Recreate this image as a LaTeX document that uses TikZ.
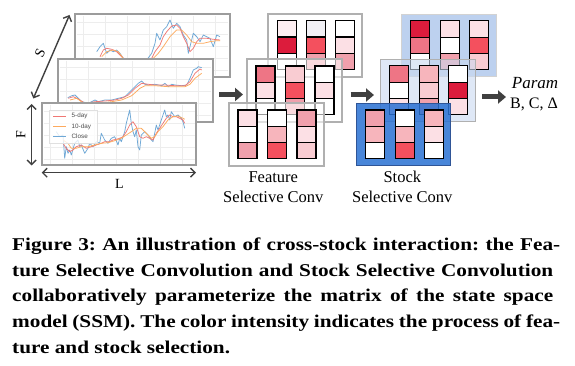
\documentclass[tikz,border=0pt]{standalone}
\usepackage{fontspec}
\setmainfont{Liberation Serif}
\setsansfont{Liberation Sans}
\newfontfamily\capfont[FakeStretch=1.18]{Liberation Serif}
\usetikzlibrary{arrows.meta}
\definecolor{pa}{HTML}{FCE0E5}
\definecolor{pb}{HTML}{F9CCD2}
\definecolor{pc}{HTML}{F7B5BC}
\definecolor{pd}{HTML}{F0A0AC}
\definecolor{pe}{HTML}{EE7585}
\definecolor{pf}{HTML}{F4505E}
\definecolor{pg}{HTML}{DC1C3C}
\definecolor{ph}{HTML}{FDEEF1}
\definecolor{pgr}{HTML}{F1F0F5}
\definecolor{cfive}{HTML}{F07874}
\definecolor{cten}{HTML}{FDAA5E}
\definecolor{cclose}{HTML}{6FA8D6}
\definecolor{darkarrow}{HTML}{404040}
\definecolor{gridc}{HTML}{EDEDED}
\definecolor{panelgray}{HTML}{9C9C9C}
\definecolor{blueback}{HTML}{BDD1EF}
\definecolor{bluemid}{HTML}{CBDAF0}
\definecolor{bluefront}{HTML}{2A71D3}
\definecolor{bluefrontedge}{HTML}{2F5597}
\newcommand\cellstack[5]{%
  \draw[cellbox, fill=#3] ({#1},{#2}) rectangle ++(19,16.3);
  \draw[cellbox, fill=#4] ({#1},{#2+16.3}) rectangle ++(19,16.3);
  \draw[cellbox, fill=#5] ({#1},{#2+32.6}) rectangle ++(19,16.3);}
\newcommand\chartgrid{%
  \foreach \gx in {8,30,...,150} \draw[gridc, line width=0.5pt] (\gx,2) -- (\gx,61);
  \foreach \gy in {8,20,...,60} \draw[gridc, line width=0.5pt] (2,\gy) -- (153,\gy);}
\tikzset{
  cellbox/.style={draw=black, line width=1.1pt},
  featpanel/.style={draw=panelgray!80, fill=white, fill opacity=0.6, line width=1.1pt},
  chartpanel/.style={draw=panelgray, fill=white, line width=1.2pt},
  fiveline/.style={cfive, line width=0.75pt, line join=round},
  tenline/.style={cten, line width=0.75pt, line join=round},
  closeline/.style={cclose, line width=0.75pt, line join=round},
  dimarrow/.style={darkarrow, line width=1.4pt, {Straight Barb[length=4.5pt,width=9pt]}-{Straight Barb[length=4.5pt,width=9pt]}},
  blockarrow/.style={darkarrow, line width=5pt, -{Triangle[length=8pt,width=13pt]}},
  dimlabel/.style={font=\fontsize{14}{14}\selectfont, inner sep=0pt},
  convlabel/.style={font=\fontsize{16.5}{16.5}\selectfont, inner sep=0pt},
  legtext/.style={font=\sffamily\fontsize{6.3}{6.3}\selectfont, text=black!70, anchor=west, inner sep=0pt},
  capline/.style={anchor=base west, inner sep=0pt, font=\capfont\bfseries\fontsize{18}{18}\selectfont\frenchspacing}
}
\begin{document}
\begin{tikzpicture}[x=1pt, y=-1pt]
\useasboundingbox (0,0) rectangle (575,366);
\fill[white] (0,0) rectangle (575,366);

% ---------- chart panels ----------
\begin{scope}[shift={(75,14)}]
  \draw[chartpanel] (0,0) rectangle (155,63);
  \begin{scope}
    \clip (0,0) rectangle (155,63);
    \chartgrid
  \end{scope}
\end{scope}
\begin{scope}
  \clip (75,14) rectangle (230,77);
  \draw[closeline] (96.7,51.7) -- (100,46.7) -- (103.3,43.3) -- (105,48.3) -- (106.7,53.3) -- (110,50) -- (113.3,51.7) -- (116.7,50) -- (120,53.3) -- (123.3,58.3) -- (128.3,63.3) -- (136.7,66.7) -- (146.7,60) -- (151.7,53.3) -- (155,43.3) -- (156.7,33.3) -- (160,40) -- (163.3,30) -- (166.7,26.7) -- (170,20) -- (173.3,28.3) -- (176.7,23.3) -- (180,26.7) -- (183.3,35) -- (186.7,40) -- (188.3,53.3) -- (190,46.7) -- (193.3,33.3) -- (196.7,36.7) -- (200,41.7) -- (203.3,35) -- (206.7,36.7) -- (210,38.3) -- (213.3,46.7) -- (216.7,35) -- (220,36.7);
  \draw[fiveline] (100,56.7) -- (103.3,50) -- (106.7,48.3) -- (111.7,49.3) -- (116.7,51.7) -- (121.7,56.7) -- (126.7,61.7) -- (136.7,65) -- (146.7,61.7) -- (151.7,58.3) -- (155,51.7) -- (160,45) -- (163.3,36.7) -- (166.7,31.7) -- (171.7,26) -- (176.7,25) -- (180,28.3) -- (183.3,36.7) -- (186.7,43.3) -- (190,51.7) -- (193.3,48.3) -- (196.7,41.7) -- (200,38.3) -- (206.7,38.3) -- (213.3,39.3) -- (220,40);
  \draw[tenline] (101.7,56.7) -- (106.7,51.7) -- (113.3,50) -- (118.3,51.7) -- (123.3,58.3) -- (136.7,65) -- (153.3,58.3) -- (158.3,53.3) -- (163.3,46.7) -- (170,36.7) -- (176.7,30) -- (181.7,30) -- (186.7,35) -- (191.7,41.7) -- (196.7,43.3) -- (203.3,43.3) -- (210,41.7) -- (216.7,40.7) -- (220,40.7);
\end{scope}

\begin{scope}[shift={(58,59)}]
  \draw[chartpanel] (0,0) rectangle (155,63);
  \begin{scope}
    \clip (0,0) rectangle (155,63);
    \chartgrid
  \end{scope}
\end{scope}
\begin{scope}
  \clip (58,59) rectangle (213,122);
  \draw[closeline] (67.7,97.7) -- (71.7,95.7) -- (75,95) -- (78.3,98.3) -- (81.7,101.7) -- (88.3,103.3) -- (95,100) -- (98.3,101.7) -- (105,100) -- (111.7,100) -- (118.3,98.3) -- (125,96.7) -- (131.7,90) -- (138.3,83.3) -- (141.7,81) -- (145,84.3) -- (148.3,85) -- (155,84.3) -- (161.7,85.7) -- (165,83.3) -- (168.3,86.7) -- (171.7,84.3) -- (175,85) -- (181.7,85.7) -- (186.7,85) -- (190,78.3) -- (193.3,70) -- (196.7,68.3) -- (198.3,66.7) -- (201.7,67.7);
  \draw[fiveline] (68.3,98.3) -- (73.3,96.7) -- (78.3,99) -- (85,103.3) -- (95,101.7) -- (105,101) -- (115,100) -- (121.7,98.3) -- (128.3,95) -- (135,88.3) -- (141.7,83.3) -- (148.3,84.3) -- (155,85) -- (165,85) -- (175,85.7) -- (185,85.7) -- (190,81.7) -- (195,73.3) -- (200,69) -- (201.7,70);
  \draw[tenline] (70,100) -- (76.7,98.3) -- (85,104.3) -- (98.3,103.3) -- (111.7,101.7) -- (121.7,100) -- (131.7,95.7) -- (140,88.3) -- (145,85.7) -- (155,85.7) -- (168.3,86.7) -- (185,86.7) -- (190,84.3) -- (195,78.3) -- (201.7,73.3);
\end{scope}

\begin{scope}[shift={(42,103)}]
  \draw[chartpanel] (0,0) rectangle (154,62);
  \begin{scope}
    \clip (0,0) rectangle (154,62);
    \chartgrid
  \end{scope}
\end{scope}
\begin{scope}
  \clip (42,103) rectangle (196,165);
  \draw[closeline] (56.3,131.7) -- (59.7,136.7) -- (63,135) -- (64.7,158.3) -- (66.3,146.7) -- (68,153.3) -- (69.7,150) -- (71.3,155) -- (74.7,143.3) -- (78,140) -- (79.7,146.7) -- (81.3,145) -- (84.7,153.3) -- (88,148.3) -- (89.7,143.3) -- (93,146.7) -- (96.3,141.7) -- (99.7,143.3) -- (101.3,133.3) -- (104.7,140) -- (108,143.3) -- (111.3,138.3) -- (114.7,136.7) -- (118,145) -- (119.7,138.3) -- (121.3,141.7) -- (124.7,131.7) -- (126.3,123.3) -- (129.7,110) -- (131.3,123.3) -- (133,131.7) -- (134.7,136.7) -- (136.3,130) -- (138,146.7) -- (139.7,150) -- (141.3,135) -- (144.7,131.7) -- (148,135) -- (151.3,140) -- (153,141.7) -- (154.7,133.3) -- (156.3,125) -- (158,130) -- (161.3,120) -- (164.7,110) -- (166.3,116.7) -- (168,115) -- (169.7,120) -- (171.3,111.7) -- (174.7,116.7) -- (178,115) -- (181.3,118.3) -- (183,121.7) -- (184.7,128.3);
  \draw[fiveline] (63,143.3) -- (66.3,148.3) -- (69.7,151.7) -- (73,150) -- (76.3,146.7) -- (81.3,145) -- (86.3,148.3) -- (91.3,146.7) -- (96.3,145) -- (101.3,143.3) -- (104.7,141.7) -- (109.7,141.7) -- (113,140) -- (116.3,139.3) -- (119.7,138.3) -- (123,136.7) -- (126.3,131.7) -- (129.7,125) -- (133,121.7) -- (136.3,126.7) -- (139.7,136.7) -- (143,138.3) -- (146.3,136.7) -- (149.7,138.3) -- (153,140) -- (156.3,133.3) -- (159.7,128.3) -- (163,123.3) -- (166.3,118.3) -- (169.7,115) -- (173,116.7) -- (176.3,116.7) -- (179.7,118.3) -- (183,120) -- (184.7,123.3);
  \draw[tenline] (63,140) -- (68,143.3) -- (71.3,148.3) -- (76.3,148.3) -- (81.3,146.7) -- (88,146.7) -- (94.7,145) -- (101.3,143.3) -- (108,142.7) -- (114.7,140.7) -- (121.3,138.3) -- (126.3,135) -- (131.3,131.7) -- (136.3,128.3) -- (141.3,128.3) -- (146.3,133.3) -- (151.3,138.3) -- (154.7,136.7) -- (158,131.7) -- (163,126.7) -- (168,120) -- (173,116.7) -- (178,116) -- (183,118.3) -- (184.7,119.3);
\end{scope}
% legend
\draw[draw=black!12, fill=white, fill opacity=0.8, line width=0.5pt] (49.5,110) rectangle (97,143);
\draw[fiveline] (53,116.3) -- (66,116.3);
\draw[tenline] (53,126.5) -- (66,126.5);
\draw[closeline] (53,136.7) -- (66,136.7);
\node[legtext] (l5) at (71.5,116.3) {5-day};
\node[legtext] (l10) at (71.5,126.5) {10-day};
\node[legtext] (lc) at (71.5,136.7) {Close};

% ---------- dimension arrows ----------
\coordinate (sTop) at (69.5,15);
\coordinate (sBot) at (33.3,98.5);
\coordinate (fTop) at (31.7,104);
\coordinate (fBot) at (31.7,165.5);
\coordinate (lLeft) at (41.7,172.7);
\coordinate (lRight) at (196,172.7);
\draw[dimarrow] (sBot) -- (sTop);
\draw[dimarrow] (fTop) -- (fBot);
\draw[dimarrow] (lLeft) -- (lRight);
\node[dimlabel, rotate=66] (sLab) at (40,53.3) {S};
\node[dimlabel, rotate=90] (fLab) at (20.7,135) {F};
\node[dimlabel] (lLab) at (119.3,184.3) {L};

% ---------- feature selective conv ----------
\begin{scope}[shift={(268,14)}]
  \draw[featpanel] (0,0) rectangle (94,63);
  \cellstack{9.3}{6.7}{ph}{pg}{white}
  \cellstack{38.3}{6.7}{pgr}{pf}{pd}
  \cellstack{67.3}{6.7}{white}{pa}{pd}
\end{scope}
\begin{scope}[shift={(247,59)}]
  \draw[featpanel] (0,0) rectangle (95,63);
  \cellstack{9}{7}{pe}{pa}{white}
  \cellstack{38.5}{7}{pb}{pf}{pd}
  \cellstack{68}{7}{white}{pa}{white}
\end{scope}
\begin{scope}[shift={(229,103)}]
  \draw[featpanel] (0,0) rectangle (95,63);
  \cellstack{9}{7}{pa}{white}{pd}
  \cellstack{38.5}{7}{white}{pc}{pf}
  \cellstack{68}{7}{pd}{pa}{pb}
\end{scope}
\node[convlabel] (featA) at (273.3,177) {Feature};
\node[convlabel] (featB) at (273.3,196.7) {Selective Conv};

% ---------- stock selective conv ----------
\begin{scope}[shift={(401.7,14.3)}]
  \draw[draw=panelgray!45, fill=blueback, line width=1pt] (0,0) rectangle (95,62.5);
  \cellstack{9}{6.5}{pg}{pe}{white}
  \cellstack{38.5}{6.5}{pa}{white}{pd}
  \cellstack{68}{6.5}{pa}{pf}{pb}
\end{scope}
\begin{scope}[shift={(380.7,59.3)}]
  \draw[draw=panelgray!80, fill=bluemid, fill opacity=0.6, line width=1.1pt] (0,0) rectangle (95,62);
  \cellstack{9}{6.5}{pe}{white}{pa}
  \cellstack{38.5}{6.5}{pc}{pb}{pd}
  \cellstack{68}{6.5}{white}{pg}{pa}
\end{scope}
\begin{scope}[shift={(356.7,103.3)}]
  \draw[draw=bluefrontedge, fill=bluefront, fill opacity=0.85, line width=1pt] (0,0) rectangle (94,62);
  \cellstack{9}{6.7}{pd}{pc}{white}
  \cellstack{38.5}{6.7}{white}{pc}{pf}
  \cellstack{68}{6.7}{pc}{pa}{white}
\end{scope}
\node[convlabel] (stockA) at (402.3,177) {Stock};
\node[convlabel] (stockB) at (402.3,197) {Selective Conv};

% ---------- block arrows ----------
\coordinate (a1s) at (219,94.5);
\coordinate (a1e) at (243,94.5);
\coordinate (a2s) at (350.5,95);
\coordinate (a2e) at (374,95);
\coordinate (a3s) at (482,97);
\coordinate (a3e) at (506,97);
\draw[blockarrow] (a1s) -- (a1e);
\draw[blockarrow] (a2s) -- (a2e);
\draw[blockarrow] (a3s) -- (a3e);

\node[font=\itshape\fontsize{17}{17}\selectfont, inner sep=0pt] (param) at (535,83.5) {Param};
\node[font=\fontsize{16}{16}\selectfont, inner sep=0pt] (bcd) at (534,104) {B, C, Δ};

% ---------- caption ----------
\node[capline] (cap1) at (12,250.7) {\makebox[541pt][s]{Figure 3: An illustration of cross-stock interaction: the Fea}\rlap{-}};
\node[capline] (cap2) at (12,276.3) {\makebox[541pt][s]{ture Selective Convolution and Stock Selective Convolution}};
\node[capline] (cap3) at (12,301.9) {\makebox[541pt][s]{collaboratively parameterize the matrix of the state space}};
\node[capline] (cap4) at (12,327.5) {\makebox[541pt][s]{model (SSM). The color intensity indicates the process of fea}\rlap{-}};
\node[capline] (cap5) at (12,353.1) {ture and stock selection.};
\end{tikzpicture}
\end{document}
